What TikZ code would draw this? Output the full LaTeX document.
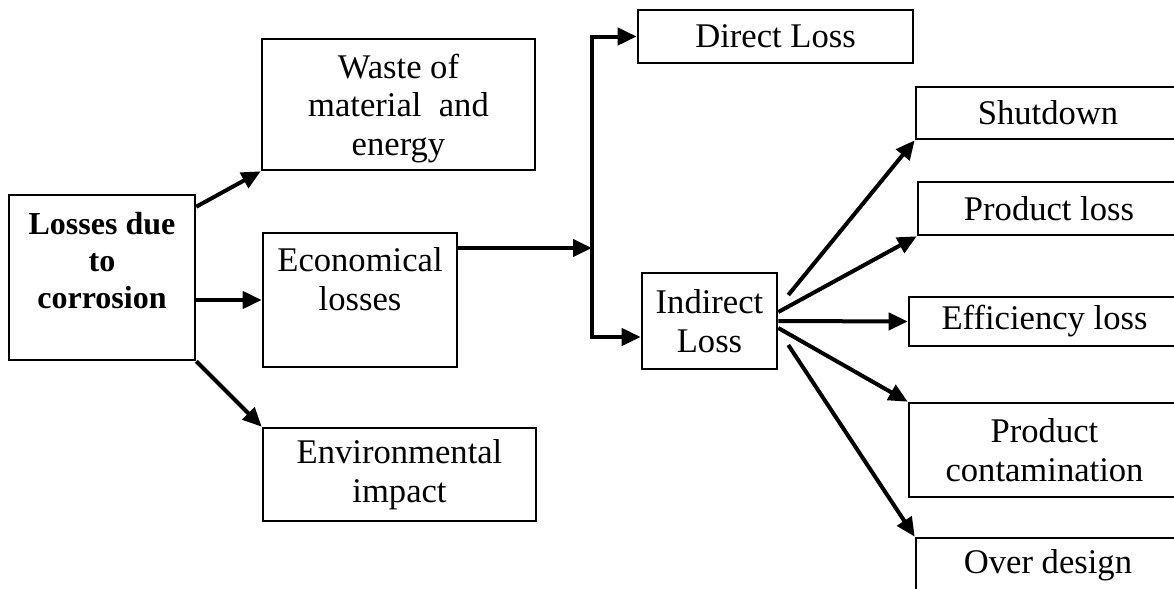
\documentclass[tikz,border=0pt]{standalone}
\usepackage{fontspec}
\setmainfont{Liberation Serif}
\usetikzlibrary{arrows.meta}

\tikzset{
  box/.style={draw, line width=1.3pt, inner sep=0pt, align=center,
    font=\fontsize{17.3}{19.3}\selectfont},
  link/.style={line width=2pt, -{Triangle[length=9.5pt,width=8.5pt]}},
}

\begin{document}
\begin{tikzpicture}[x=0.5pt,y=-0.5pt]
  \useasboundingbox (0,0) rectangle (1174,589);
  \clip (0,0) rectangle (1174,589);
  % first level
  \node[box, minimum width=93pt, minimum height=82.5pt, text depth=17pt,
    font=\fontsize{16}{18.5}\selectfont\bfseries] (loss) at (102,277.5) {Losses due\\to\\corrosion};
  \node[box, minimum width=136.5pt, minimum height=65.5pt, text depth=0pt] (waste) at (398.5,104.5) {Waste of\\material\enspace and\\energy};
  \node[box, minimum width=97pt, minimum height=67pt, text depth=21pt] (econ) at (360,300) {Economical\\losses};
  \node[box, minimum width=136.5pt, minimum height=46.5pt] (env) at (399.5,474.5) {Environmental\\impact};
  \draw[link] ([yshift=-6.5pt]loss.north east) -- (waste.south west);
  \draw[link] (loss.east |- econ.west) -- (econ.west);
  \draw[link] (loss.south east) -- (env.north west);
  % direct / indirect split
  \node[box, minimum width=137.5pt, minimum height=26.5pt] (direct) at (775.5,36.5) {Direct Loss};
  \node[box, minimum width=67.5pt, minimum height=48pt] (ind) at (709.5,321) {Indirect\\Loss};
  \coordinate (jn) at (592,248);
  \draw[link] (econ.east |- jn) -- (jn);
  \draw[link] (jn) |- (direct.west);
  \draw[link] (jn) |- ([yshift=-8pt]ind.west);
  % indirect losses, cut off at the right edge
  \node[box, minimum width=132pt, minimum height=26pt] (shut) at (1048,113) {Shutdown};
  \node[box, minimum width=131pt, minimum height=26.5pt] (prod) at (1049,208.5) {Product loss};
  \node[box, minimum width=135.5pt, minimum height=24.5pt] (eff) at (1044.5,321.5) {Efficiency loss};
  \node[box, minimum width=135.5pt, minimum height=47pt] (cont) at (1044.5,450) {Product\\contamination};
  \node[box, minimum width=132pt, minimum height=27pt] (over) at (1048,565) {Over design};
  \draw[link] ([shift={(10,-26)}]ind.east) -- (shut.south west);
  \draw[link] ([yshift=4.5pt]ind.east) -- (prod.south west);
  \draw[link] (ind.east) -- (eff.west);
  \draw[link] ([yshift=-3.5pt]ind.east) -- (cont.north west);
  \draw[link] ([shift={(10,24)}]ind.east) -- (over.north west);
\end{tikzpicture}
\end{document}
